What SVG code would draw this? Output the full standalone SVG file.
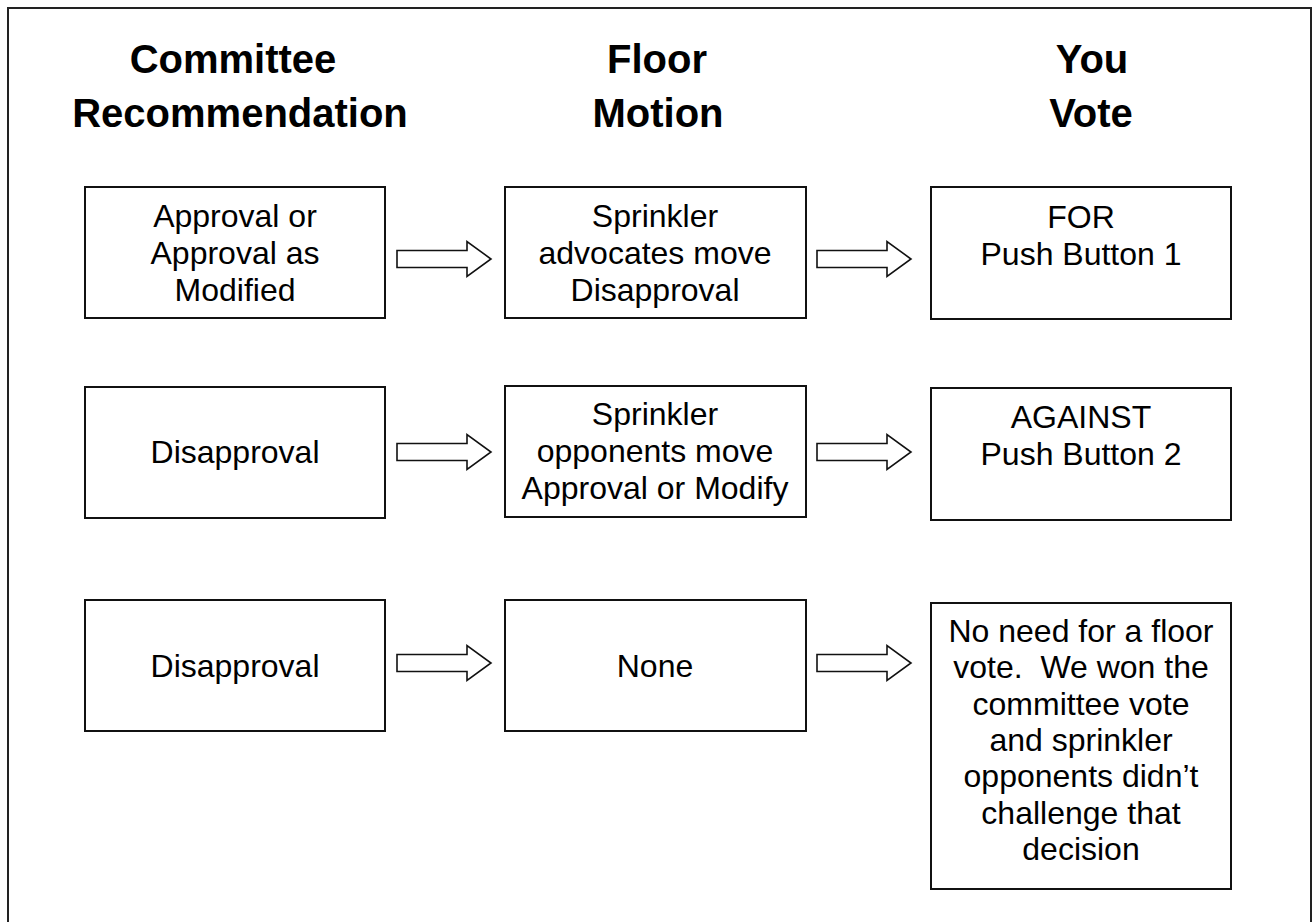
<svg xmlns="http://www.w3.org/2000/svg" width="1312" height="922" viewBox="0 0 1312 922">
<defs>
<style>
.frame{fill:none;stroke:#222;stroke-width:2}
.box{fill:#fff;stroke:#111;stroke-width:2}
.arr{fill:#fff;stroke:#111;stroke-width:1.6;stroke-linejoin:miter}
.h{font-family:"Liberation Sans",Arial,sans-serif;font-weight:bold;font-size:40px;fill:#000;text-anchor:middle}
.t{font-family:"Liberation Sans",Arial,sans-serif;font-size:32px;fill:#000;text-anchor:middle;white-space:pre}
</style>
<path id="arrow" d="M0,-8.5 H70 V-17.5 L94,0 L70,17.5 V8.5 H0 Z"/>
</defs>
<rect width="1312" height="922" fill="#fff"/>
<rect class="frame" x="8" y="8" width="1303" height="940"/>

<g id="headings">
<g id="h-committee"><text class="h" x="233" y="73">Committee</text><text class="h" x="240" y="127">Recommendation</text></g>
<g id="h-floor"><text class="h" x="657" y="73">Floor</text><text class="h" x="658" y="127">Motion</text></g>
<g id="h-vote"><text class="h" x="1092" y="73">You</text><text class="h" x="1091" y="127">Vote</text></g>
</g>

<g id="connectors">
<use href="#arrow" class="arr" x="397" y="259"/>
<use href="#arrow" class="arr" x="817" y="259"/>
<use href="#arrow" class="arr" x="397" y="452"/>
<use href="#arrow" class="arr" x="817" y="452"/>
<use href="#arrow" class="arr" x="397" y="663"/>
<use href="#arrow" class="arr" x="817" y="663"/>
</g>

<g id="r1a"><rect class="box" x="85" y="187" width="300" height="131"/>
<text class="t" x="235" y="227">Approval or</text><text class="t" x="235" y="264">Approval as</text><text class="t" x="235" y="301">Modified</text></g>
<g id="r1b"><rect class="box" x="505" y="187" width="301" height="131"/>
<text class="t" x="655" y="227">Sprinkler</text><text class="t" x="655" y="264">advocates move</text><text class="t" x="655" y="301">Disapproval</text></g>
<g id="r1c"><rect class="box" x="931" y="187" width="300" height="132"/>
<text class="t" x="1081" y="228">FOR</text><text class="t" x="1081" y="265">Push Button 1</text></g>

<g id="r2a"><rect class="box" x="85" y="387" width="300" height="131"/>
<text class="t" x="235" y="463">Disapproval</text></g>
<g id="r2b"><rect class="box" x="505" y="386" width="301" height="131"/>
<text class="t" x="655" y="425">Sprinkler</text><text class="t" x="655" y="462">opponents move</text><text class="t" x="655" y="499">Approval or Modify</text></g>
<g id="r2c"><rect class="box" x="931" y="388" width="300" height="132"/>
<text class="t" x="1081" y="428">AGAINST</text><text class="t" x="1081" y="465">Push Button 2</text></g>

<g id="r3a"><rect class="box" x="85" y="600" width="300" height="131"/>
<text class="t" x="235" y="677">Disapproval</text></g>
<g id="r3b"><rect class="box" x="505" y="600" width="301" height="131"/>
<text class="t" x="655" y="677">None</text></g>
<g id="r3c"><rect class="box" x="931" y="603" width="300" height="286"/>
<text class="t" x="1081" y="641.5">No need for a floor</text>
<text class="t" x="1081" y="678">vote.  We won the</text>
<text class="t" x="1081" y="714.5">committee vote</text>
<text class="t" x="1081" y="751">and sprinkler</text>
<text class="t" x="1081" y="787">opponents didn’t</text>
<text class="t" x="1081" y="823.5">challenge that</text>
<text class="t" x="1081" y="860">decision</text></g>
</svg>
